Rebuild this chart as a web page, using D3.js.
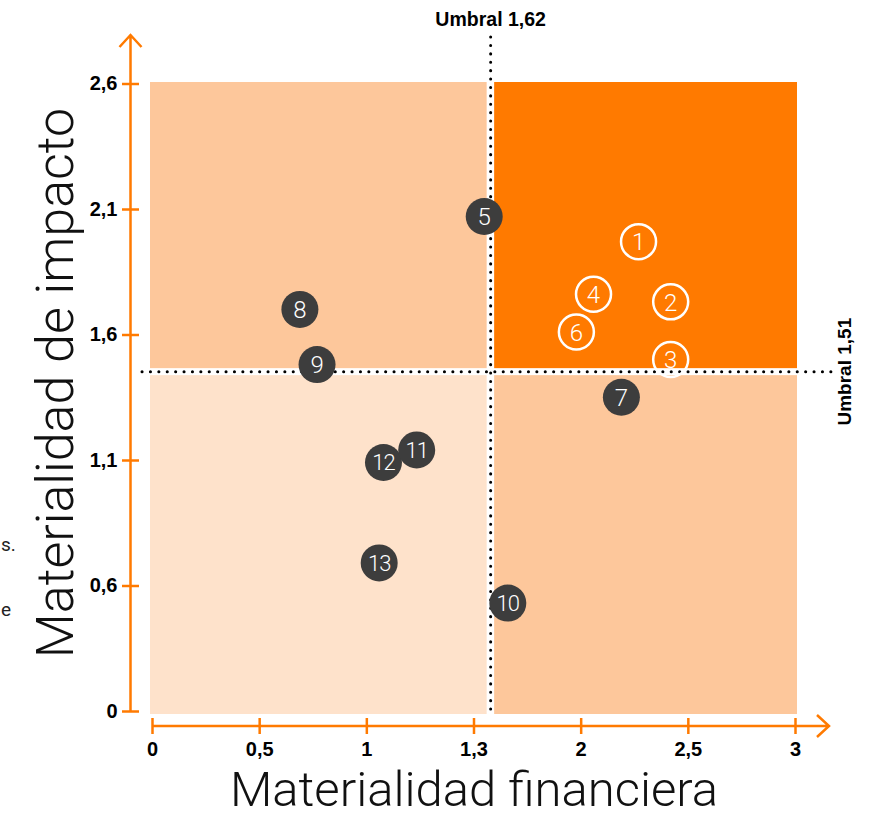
<!DOCTYPE html>
<html>
<head>
<meta charset="utf-8">
<script src="https://cdn.jsdelivr.net/npm/d3@7"></script>
<style>
    body { margin: 0; background: #fff; }
    svg { display: block; }
</style>
</head>
<body>
<div id="vis-container"></div>
<script>

    ////////////////////////////////////
    ////////////// Data ////////////////
    ////////////////////////////////////

    const pointIds = [1, 2, 3, 4, 5, 6, 7, 8, 9, 10, 11, 12, 13]
    const financialValues = [2.27, 2.42, 2.42, 2.06, 1.55, 1.98, 2.19, 0.69, 0.77, 1.66, 1.235, 1.08, 1.06]
    const impactValues = [1.97, 1.73, 1.50, 1.76, 2.07, 1.61, 1.35, 1.70, 1.48, 0.53, 1.14, 1.09, 0.69]

    // drawing order (11 sits on top of 12)
    const drawOrder = [1, 2, 3, 4, 5, 6, 7, 8, 9, 10, 12, 11, 13]

    const xTickValues = [0, 0.5, 1, 1.5, 2, 2.5, 3]
    const xTickLabels = ["0", "0,5", "1", "1,3", "2", "2,5", "3"]
    const yTickValues = [0.1, 0.6, 1.1, 1.6, 2.1, 2.6]
    const yTickLabels = ["0", "0,6", "1,1", "1,6", "2,1", "2,6"]

    const thresholdX = 1.58
    const thresholdXLabel = "Umbral 1,62"
    const thresholdY = 1.452
    const thresholdYLabel = "Umbral 1,51"

    const xTitle = "Materialidad financiera"
    const yTitle = "Materialidad de impacto"

    ////////////////////////////////////
    ///////////// SVG Setup ////////////
    ////////////////////////////////////

    const svgWidth = 882
    const svgHeight = 817

    const orange = "#ff7a00"
    const dark = "#3d3d3d"
    const boldFont = "'Liberation Sans', Arial, sans-serif"
    const lightFont = "Roboto, 'Open Sans', sans-serif"

    const svg = d3.select('#vis-container')
        .append('svg')
        .attr('width', svgWidth)
        .attr('height', svgHeight)

    ////////////////////////////////////
    /////////////// Scales /////////////
    ////////////////////////////////////

    let xScale = d3.scaleLinear()
        .domain([0, 3])
        .range([152, 795])

    let yScale = d3.scaleLinear()
        .domain([0.1, 2.6])
        .range([711, 83.5])

    const x0 = xScale(0), x3 = xScale(3)
    const yTop = yScale(2.6), yBot = yScale(0.1)
    const tx = xScale(thresholdX), ty = yScale(thresholdY)

    ////////////////////////////////////
    //////////// Quadrants /////////////
    ////////////////////////////////////

    const quadrants = [
        { x1: x0 - 2, x2: tx - 4, y1: yTop - 1.5, y2: ty - 3.5, fill: "#fdc79b" },
        { x1: tx + 3.5, x2: x3 + 2, y1: yTop - 1.5, y2: ty - 3.5, fill: orange },
        { x1: x0 - 2, x2: tx - 4, y1: ty + 3.5, y2: yBot + 3, fill: "#fee2cb" },
        { x1: tx + 3.5, x2: x3 + 2, y1: ty + 3.5, y2: yBot + 3, fill: "#fdc79b" }
    ]

    svg.selectAll('rect.quad')
        .data(quadrants)
        .join('rect')
        .attr('class', 'quad')
        .attr('x', d => d.x1)
        .attr('y', d => d.y1)
        .attr('width', d => d.x2 - d.x1)
        .attr('height', d => d.y2 - d.y1)
        .attr('fill', d => d.fill)

    ////////////////////////////////////
    ///////// Threshold lines //////////
    ////////////////////////////////////

    const dotted = sel => sel
        .attr('stroke', '#000')
        .attr('stroke-width', 3)
        .attr('stroke-linecap', 'round')
        .attr('stroke-dasharray', '0.1 8.3')

    svg.append('line')
        .attr('x1', tx).attr('x2', tx)
        .attr('y1', 37).attr('y2', yBot + 5)
        .call(dotted)

    svg.append('line')
        .attr('x1', 142).attr('x2', 832)
        .attr('y1', ty).attr('y2', ty)
        .call(dotted)

    svg.append('text')
        .attr('x', tx)
        .attr('y', 26)
        .attr('text-anchor', 'middle')
        .attr('font-family', boldFont)
        .attr('font-weight', 'bold')
        .attr('font-size', 19.5)
        .text(thresholdXLabel)

    svg.append('text')
        .attr('transform', `translate(851,${ty}) rotate(-90)`)
        .attr('text-anchor', 'middle')
        .attr('font-family', boldFont)
        .attr('font-weight', 'bold')
        .attr('font-size', 19)
        .text(thresholdYLabel)

    ////////////////////////////////////
    ////////////// Axis ////////////////
    ////////////////////////////////////

    let xAxis = d3.axisBottom(xScale)
        .tickValues(xTickValues)
        .tickFormat((d, i) => xTickLabels[i])
        .tickSize(8)
        .tickPadding(8)

    let yAxis = d3.axisLeft(yScale)
        .tickValues(yTickValues)
        .tickFormat((d, i) => yTickLabels[i])
        .tickSize(8.5)
        .tickPadding(5)

    const xAxisY = 726
    const yAxisX = 130.5

    const gx = svg.append('g')
        .attr('transform', `translate(0,${xAxisY})`)
        .call(xAxis)

    const gy = svg.append('g')
        .attr('transform', `translate(${yAxisX},0)`)
        .call(yAxis)

    ;[gx, gy].forEach(g => {
        g.select('.domain').remove()
        g.selectAll('.tick line').attr('stroke', orange).attr('stroke-width', 2.5)
        g.selectAll('.tick text')
            .attr('fill', '#000')
            .attr('font-family', boldFont)
            .attr('font-weight', 'bold')
            .attr('font-size', 20)
    })
    gx.selectAll('.tick line').attr('y1', -8)
    gy.selectAll('.tick line').attr('x1', 8.5)
    gy.selectAll('.tick text').attr('x', -13)

    // axis lines with open arrow heads
    const axisPaths = [
        `M${x0},${xAxisY}H829 M817,${xAxisY - 11}L829,${xAxisY}L817,${xAxisY + 11}`,
        `M${yAxisX},${yBot}V35 M${yAxisX - 11},47L${yAxisX},35L${yAxisX + 11},47`
    ]

    svg.selectAll('path.axis-line')
        .data(axisPaths)
        .join('path')
        .attr('class', 'axis-line')
        .attr('d', d => d)
        .attr('fill', 'none')
        .attr('stroke', orange)
        .attr('stroke-width', 2.5)

    // axis titles
    svg.append('text')
        .attr('x', 474)
        .attr('y', 806)
        .attr('text-anchor', 'middle')
        .attr('font-family', lightFont)
        .attr('font-weight', 300)
        .attr('font-size', 49)
        .attr('fill', '#111')
        .text(xTitle)

    svg.append('text')
        .attr('transform', 'translate(73,383) rotate(-90)')
        .attr('text-anchor', 'middle')
        .attr('font-family', lightFont)
        .attr('font-weight', 300)
        .attr('font-size', 52)
        .attr('fill', '#111')
        .text(yTitle)

    // leftover text fragments at the left edge
    svg.append('text').attr('x', 1).attr('y', 551)
        .attr('font-family', lightFont).attr('font-size', 19).attr('fill', '#222').text('s.')
    svg.append('text').attr('x', 1).attr('y', 616)
        .attr('font-family', lightFont).attr('font-size', 19).attr('fill', '#222').text('e')

    ////////////////////////////////////
    ///////////// Points ///////////////
    ////////////////////////////////////

    const points = drawOrder.map(id => {
        const i = pointIds.indexOf(id)
        return { id: id, fin: financialValues[i], imp: impactValues[i] }
    })
    const isMaterial = d => d.fin > thresholdX && d.imp > thresholdY

    const pts = svg.selectAll('g.pt')
        .data(points)
        .join('g')
        .attr('class', 'pt')
        .attr('transform', d => `translate(${xScale(d.fin)},${yScale(d.imp)})`)

    pts.append('circle')
        .attr('r', d => isMaterial(d) ? 17.5 : 18.5)
        .attr('fill', d => isMaterial(d) ? 'none' : dark)
        .attr('stroke', d => isMaterial(d) ? '#fff' : 'none')
        .attr('stroke-width', 2.5)

    pts.append('text')
        .attr('text-anchor', 'middle')
        .attr('dy', '0.36em')
        .attr('font-family', lightFont)
        .attr('font-weight', 300)
        .attr('font-size', d => d.id >= 10 ? 22 : 24)
        .attr('letter-spacing', d => d.id >= 10 ? -1 : 0)
        .attr('fill', '#fff')
        .text(d => d.id)

</script>
</body>
</html>
